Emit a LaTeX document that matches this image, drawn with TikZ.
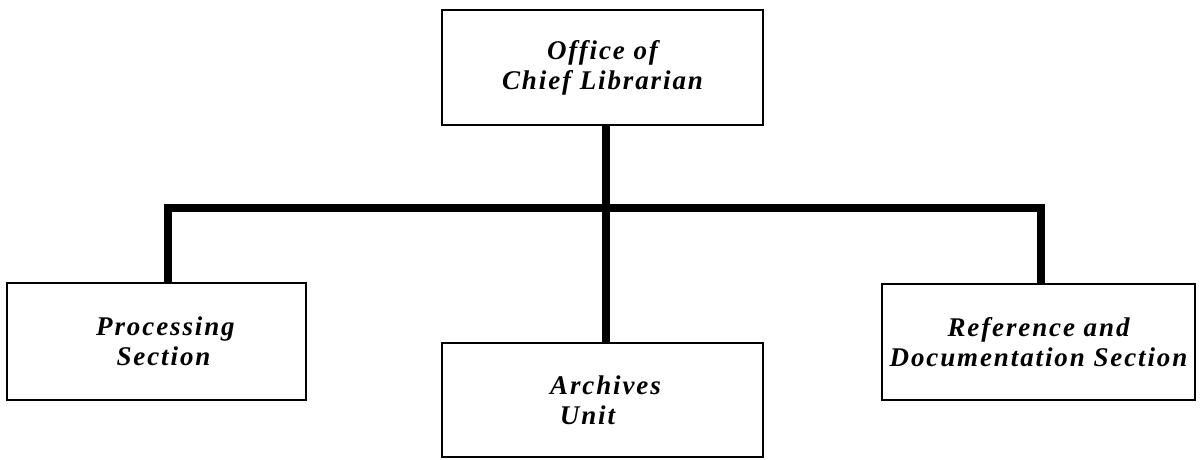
\documentclass[tikz,border=0pt]{standalone}
\usepackage{fontspec}
\setmainfont{Liberation Serif}
\begin{document}
\begin{tikzpicture}[x=1pt,y=-1pt,
  unitbox/.style={draw=black, line width=1.3pt, rectangle, inner sep=0pt,
    align=center, font=\fontsize{27}{30}\selectfont\bfseries\itshape\addfontfeature{LetterSpace=7}},
  conn/.style={line width=8.5pt, line join=miter, line cap=butt}]
  \useasboundingbox (0,0) rectangle (1204,459);
  % organisational units
  \node[unitbox, minimum width=321pt, minimum height=115pt] (chief) at (602.5,67.5)
    {Office of\\Chief Librarian};
  \node[unitbox, minimum width=299pt, minimum height=117pt] (proc) at (156.5,341.5)
    {\hspace*{18pt}Processing\\\hspace*{14pt}Section};
  \node[unitbox, minimum width=321pt, minimum height=114pt] (arch) at (602.5,400)
    {\hspace*{6pt}Archives\\Unit\hspace*{30pt}};
  \node[unitbox, minimum width=313pt, minimum height=116pt] (ref) at (1038.5,342)
    {Reference and\\Documentation Section};
  % bus line positions
  \coordinate (trunk) at (606,208);
  \coordinate (busL) at (168,208);
  \coordinate (busR) at (1041,208);
  % connectors
  \draw[conn] (chief.south -| trunk) -- (arch.north -| trunk);
  \draw[conn] (proc.north -| busL) -- (busL) -- (busR) -- (ref.north -| busR);
\end{tikzpicture}
\end{document}
